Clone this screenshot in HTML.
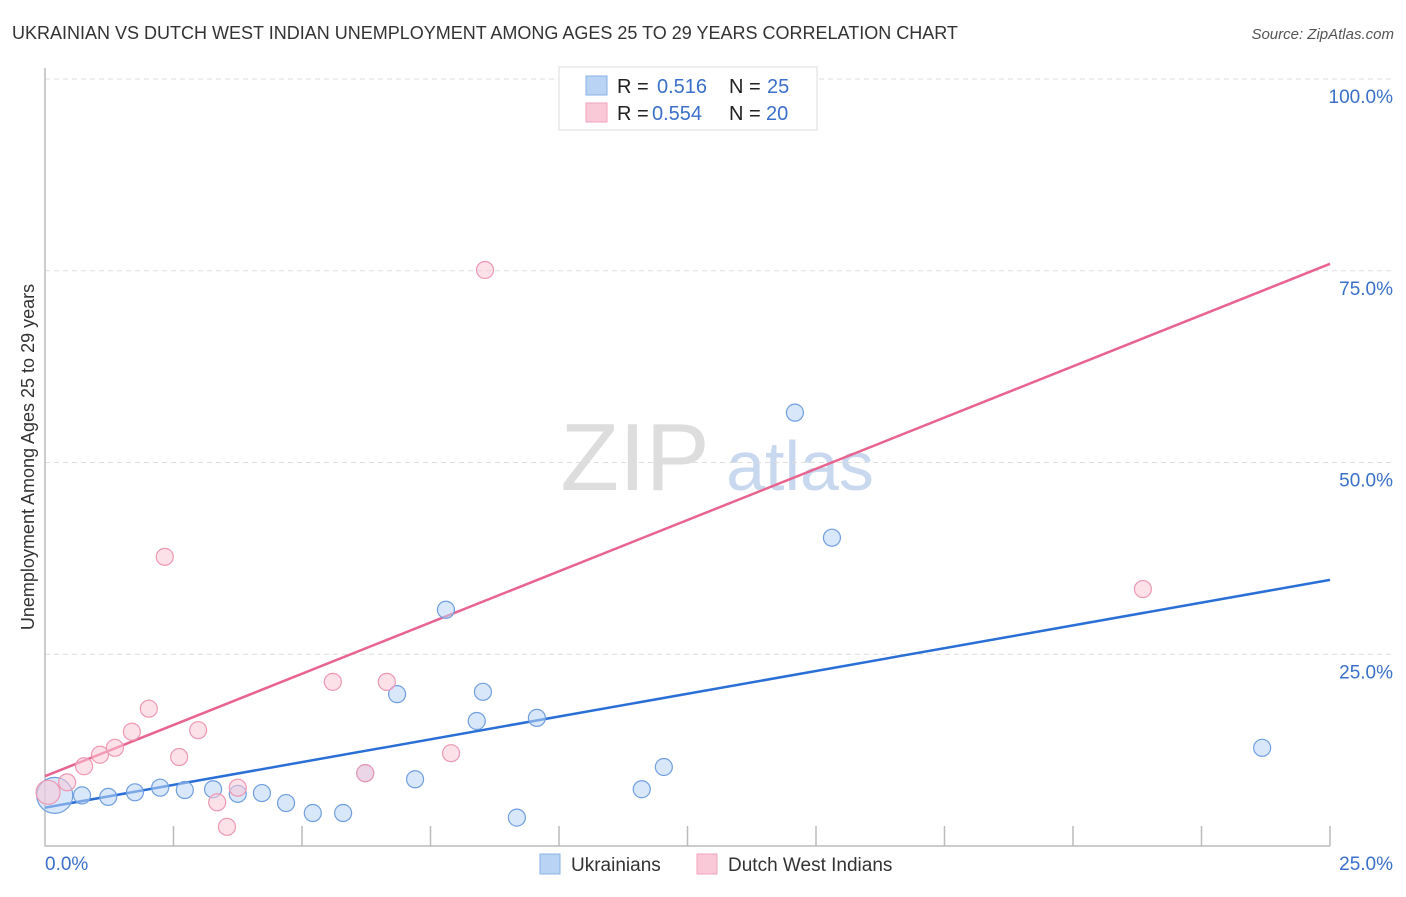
<!DOCTYPE html>
<html><head><meta charset="utf-8"><style>
body{margin:0;background:#fff;font-family:"Liberation Sans",sans-serif;}
svg text{font-family:"Liberation Sans",sans-serif;}
</style></head><body>
<svg id="chart" width="1406" height="892" xmlns="http://www.w3.org/2000/svg">
<text x="12" y="39" font-size="18" fill="#333">UKRAINIAN VS DUTCH WEST INDIAN UNEMPLOYMENT AMONG AGES 25 TO 29 YEARS CORRELATION CHART</text>
<text x="1394" y="39" font-size="15" fill="#555" font-style="italic" text-anchor="end">Source: ZipAtlas.com</text>
<text transform="translate(34,457) rotate(-90)" font-size="18" fill="#333" text-anchor="middle">Unemployment Among Ages 25 to 29 years</text>
<g>
<text x="635" y="490" font-size="96" fill="#ddd" font-family="Liberation Serif" text-anchor="middle">ZIP</text>
<text x="800" y="490" font-size="70" fill="#c8d8ee" text-anchor="middle">atlas</text>
</g>
<g id="grid"></g>
<g id="axes"></g>
<g id="lines"></g>
<g id="points"></g>
<g>
<rect x="559" y="67" width="258" height="63" fill="#fff" stroke="#ddd"/>
<rect x="586" y="76" width="21" height="19" fill="#b9d3f5" stroke="#8ab2e8"/>
<rect x="586" y="103" width="21" height="19" fill="#f9c9d7" stroke="#f0a3bb"/>
<text x="617" y="93" font-size="20" fill="#222">R = </text><text x="657" y="93" font-size="20" fill="#3a70c9">0.516</text>
<text x="729" y="93" font-size="20" fill="#222">N = </text><text x="767" y="93" font-size="20" fill="#3a70c9">25</text>
<text x="617" y="120" font-size="20" fill="#222">R = </text><text x="652" y="120" font-size="20" fill="#3a70c9">0.554</text>
<text x="729" y="120" font-size="20" fill="#222">N = </text><text x="766" y="120" font-size="20" fill="#3a70c9">20</text>
</g>
<g>
<rect x="540" y="854" width="20" height="20" fill="#b9d3f5" stroke="#8ab2e8"/>
<text x="571" y="871" font-size="19" fill="#333">Ukrainians</text>
<rect x="697" y="854" width="20" height="20" fill="#f9c9d7" stroke="#f0a3bb"/>
<text x="728" y="871" font-size="19" fill="#333">Dutch West Indians</text>
</g>
</svg>
<script>
const yTicks=[25,50,75,100];
const yTickLabels=["25.0%","50.0%","75.0%","100.0%"];
const xTickCount=10;
const blueX=[0.19,0.72,1.23,1.75,2.24,2.72,3.27,3.75,4.22,4.69,5.21,5.80,6.23,6.85,7.20,7.80,8.40,8.52,9.18,9.57,11.61,12.04,14.59,15.31,23.68];
const blueY=[6.6,6.6,6.4,7.0,7.6,7.3,7.4,6.8,6.9,5.6,4.3,4.3,9.5,19.8,8.7,30.8,16.3,20.1,3.7,16.7,7.4,10.3,56.5,40.2,12.8];
const pinkX=[0.06,0.43,0.76,1.07,1.36,1.69,2.02,2.33,2.61,2.98,3.35,3.54,3.75,5.60,6.23,6.65,7.90,8.56,12.82,21.36];
const pinkY=[7.0,8.3,10.4,11.9,12.8,14.9,17.9,37.7,11.6,15.1,5.7,2.5,7.6,21.4,9.5,21.4,12.1,75.1,99.9,33.5];
const blueTrend=[5.0,34.7];
const pinkTrend=[9.1,75.9];
const X0=45,X1=1330,Y0=846,YS=7.67;
const sx=v=>X0+v*(X1-X0)/25, sy=v=>Y0-v*YS;
const NS="http://www.w3.org/2000/svg";
function mk(t,a,p){const e=document.createElementNS(NS,t);for(const k in a)e.setAttribute(k,a[k]);p.appendChild(e);return e;}
const grid=document.getElementById('grid'),axes=document.getElementById('axes');
yTicks.forEach((t,i)=>{
 const g=mk('line',{x1:45,x2:1395,y1:sy(t),y2:sy(t),stroke:'#ddd','stroke-dasharray':'5,4'},grid);
 
 
 const l=mk('text',{x:1393,y:sy(t)+24,'font-size':19,fill:'#3a70c9','text-anchor':'end'},axes);
 l.textContent=yTickLabels[i];
 
 
});
const ax=mk('path',{d:`M45,68 V${Y0} H1330`,fill:'none',stroke:'#bbb','stroke-width':1.5},axes);


for(let i=1;i<=xTickCount;i++){const v=25*i/xTickCount;
 const t=mk('line',{x1:sx(v),x2:sx(v),y1:826,y2:Y0,stroke:'#bbb','stroke-width':1.5},axes);
 
 }
const xl0=mk('text',{x:45,y:870,'font-size':19,fill:'#3a70c9'},axes);xl0.textContent='0.0%';


const xl1=mk('text',{x:1393,y:870,'font-size':19,fill:'#3a70c9','text-anchor':'end'},axes);xl1.textContent='25.0%';


const pts=document.getElementById('points');
function dots(X,Y,fill,stroke,name){X.forEach((x,i)=>{
 const r=(i===0&&name==='point-ukrainians')?18:(i===0?12:8.5);
 const c=mk('circle',{cx:sx(x),cy:sy(Y[i]),r:r,fill:fill,stroke:stroke,'stroke-width':1.2,'fill-opacity':0.55},pts);
 
 });}
dots(blueX,blueY,'#b9d3f5','#6f9fe0','point-ukrainians');
dots(pinkX,pinkY,'#f9c9d7','#ee98b3','point-dutch-west-indians');
const lines=document.getElementById('lines');
const bl=mk('line',{x1:sx(0),y1:sy(blueTrend[0]),x2:sx(25),y2:sy(blueTrend[1]),stroke:'#2a6fd6','stroke-width':2.5},lines);


const pl=mk('line',{x1:sx(0),y1:sy(pinkTrend[0]),x2:sx(25),y2:sy(pinkTrend[1]),stroke:'#e8648e','stroke-width':2.5},lines);


</script>
</body></html>
